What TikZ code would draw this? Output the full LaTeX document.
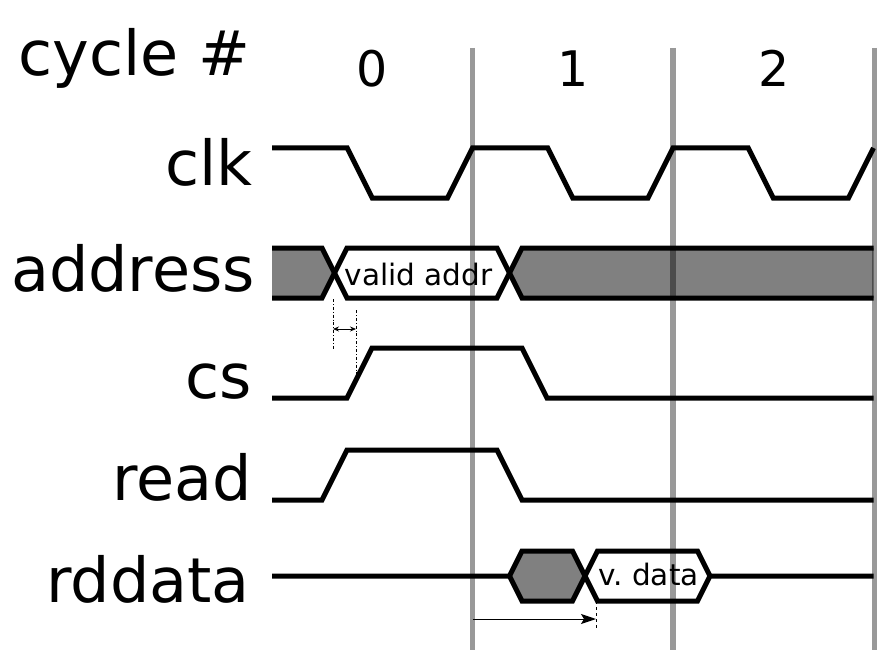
\documentclass[tikz,border=0pt]{standalone}
\usepackage{fontspec}
\setmainfont{DejaVu Sans}
\usetikzlibrary{arrows.meta}
\tikzset{
  sig/.style={black, line width=5pt},
  busfill/.style={fill=black!50, draw=none},
  cyclebar/.style={black, opacity=0.4, line width=5.5pt},
  marker/.style={black, line width=0.8pt, dash dot},
  lbl/.style={inner sep=0pt, anchor=base east, font=\fontsize{62}{72}\selectfont},
  small/.style={inner sep=0pt, anchor=base, font=\fontsize{29.5}{34}\selectfont}
}
\begin{document}
\begin{tikzpicture}[x=1pt,y=-1pt]
  \useasboundingbox (0,0) rectangle (878,650);
  % row labels
  \node[inner sep=0pt, anchor=base west, font=\fontsize{62}{72}\selectfont] (cyc) at (18,76) {cycle \#};
  \node[lbl] (lclk) at (253,185) {clk};
  \node[lbl] (laddr) at (255,291) {address};
  \node[lbl] (lcs) at (252,398) {cs};
  \node[lbl] (lread) at (252,500) {read};
  \node[lbl] (lrd) at (250,602) {rddata};
  \foreach \n/\x in {0/372.5,1/573,2/774}
    \node[inner sep=0pt, anchor=base, font=\fontsize{49}{56}\selectfont] (c\n) at (\x,87) {\n};
  % clk
  \draw[sig] (272,148) \foreach \i in {0,1,2} {-- ++(75.25,0) -- ++(25,50) -- ++(75.25,0) -- ++(25,-50)};
  % address
  \fill[busfill] (272,248) -- (322,248) -- (334.5,273) -- (322,298) -- (272,298) -- cycle;
  \fill[busfill] (509.5,273) -- (522,248) -- (873.5,248) -- (873.5,298) -- (522,298) -- cycle;
  \draw[sig] (272,248) -- (322,248) -- (347,298) -- (497,298) -- (522,248) -- (873.5,248);
  \draw[sig] (272,298) -- (322,298) -- (347,248) -- (497,248) -- (522,298) -- (873.5,298);
  \node[small] (vaddr) at (418.5,285) {valid addr};
  % cs and read
  \draw[sig] (272,398) -- (347,398) -- (372,348) -- (522,348) -- (547,398) -- (873.5,398);
  \draw[sig] (272,500) -- (322,500) -- (347,450) -- (497,450) -- (522,500) -- (873.5,500);
  % rddata
  \fill[busfill] (509.5,576) -- (522,551) -- (572.5,551) -- (585,576) -- (572.5,601) -- (522,601) -- cycle;
  \draw[sig] (272,576) -- (509.5,576) -- (522,551) -- (572.5,551) -- (597.5,601) -- (697.5,601) -- (710,576) -- (873.5,576);
  \draw[sig] (509.5,576) -- (522,601) -- (572.5,601) -- (597.5,551) -- (697.5,551) -- (710,576);
  \node[small] (vdata) at (648.5,585) {v.~data};
  % setup time marks
  \coordinate (ma) at (333,329);
  \coordinate (mb) at (356,329);
  \draw[marker] (333,299) -- (333,349);
  \draw[marker] (356,310) -- (356,380);
  \draw[line width=0.8pt, {Stealth[length=6pt,width=5pt]}-{Stealth[length=6pt,width=5pt]}] (ma) -- (mb);
  % read latency
  \coordinate (la) at (472.5,619);
  \coordinate (lb) at (596,619);
  \draw[black, line width=0.6pt, dashed] (596,601) -- (596,628);
  \draw[black, line width=1pt, -{Stealth[length=15pt,width=10pt,inset=3pt]}] (la) -- (lb);
  % cycle boundaries
  \foreach \x in {472.5,673,874.5}
    \draw[cyclebar] (\x,48) -- (\x,650);
\end{tikzpicture}
\end{document}
